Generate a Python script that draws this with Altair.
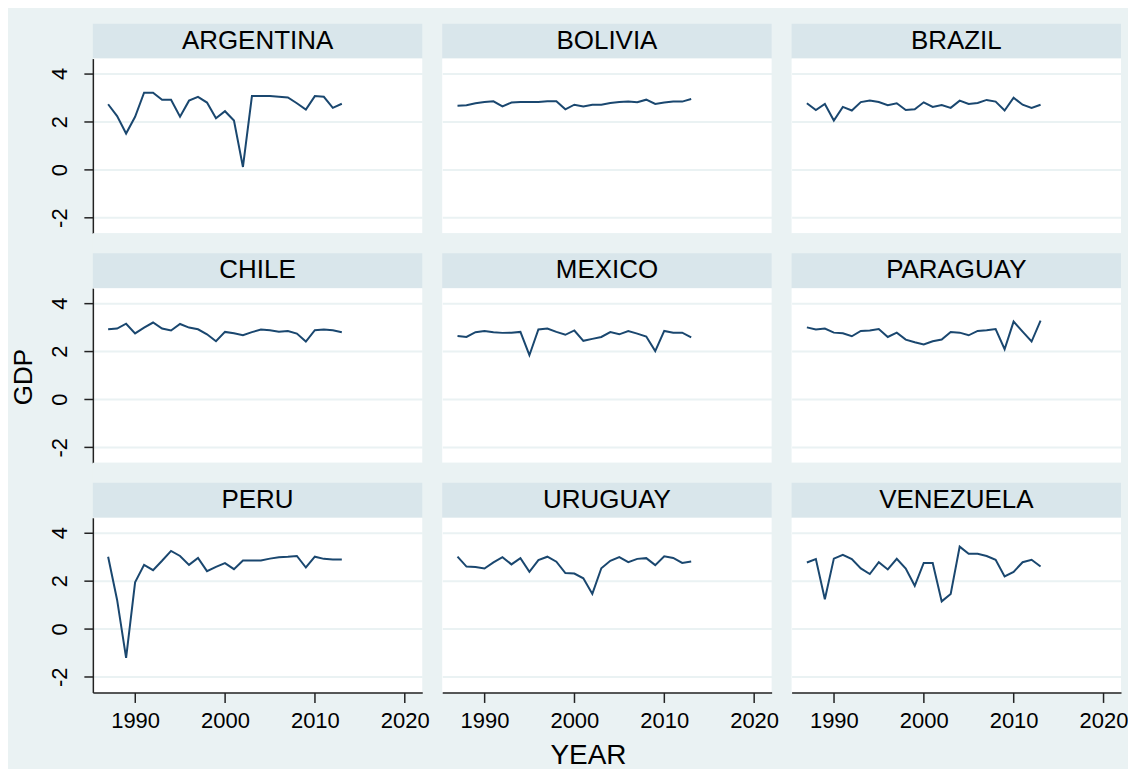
import altair as alt
import pandas as pd

years = list(range(1987, 2014))
countries = ["ARGENTINA", "BOLIVIA", "BRAZIL", "CHILE", "MEXICO",
             "PARAGUAY", "PERU", "URUGUAY", "VENEZUELA"]

argentina = [2.72, 2.23, 1.50, 2.20, 3.20, 3.20, 2.91, 2.91, 2.20, 2.87, 3.03, 2.79, 2.14, 2.43,
             2.04, 0.11, 3.06, 3.06, 3.06, 3.03, 3.00, 2.76, 2.50, 3.06, 3.03, 2.57, 2.74]
bolivia = [2.66, 2.68, 2.76, 2.81, 2.84, 2.63, 2.79, 2.81, 2.81, 2.81, 2.84, 2.84, 2.51, 2.70,
           2.63, 2.70, 2.70, 2.77, 2.81, 2.83, 2.80, 2.91, 2.73, 2.79, 2.83, 2.83, 2.94]
brazil = [2.76, 2.48, 2.73, 2.04, 2.61, 2.46, 2.81, 2.88, 2.81, 2.68, 2.76, 2.48, 2.51, 2.80,
          2.61, 2.69, 2.57, 2.87, 2.73, 2.77, 2.90, 2.83, 2.46, 2.99, 2.70, 2.57, 2.70]
chile = [2.91, 2.94, 3.14, 2.74, 2.98, 3.19, 2.94, 2.86, 3.13, 2.98, 2.91, 2.70, 2.41, 2.80,
         2.74, 2.66, 2.79, 2.90, 2.87, 2.81, 2.84, 2.73, 2.40, 2.87, 2.90, 2.87, 2.79]
mexico = [2.63, 2.59, 2.79, 2.84, 2.79, 2.76, 2.77, 2.80, 1.83, 2.90, 2.94, 2.80, 2.68, 2.86,
          2.43, 2.51, 2.59, 2.79, 2.70, 2.84, 2.73, 2.61, 2.00, 2.84, 2.77, 2.77, 2.57]
paraguay = [2.99, 2.90, 2.94, 2.77, 2.74, 2.62, 2.84, 2.86, 2.92, 2.59, 2.77, 2.48, 2.37, 2.28,
            2.41, 2.48, 2.80, 2.77, 2.66, 2.84, 2.87, 2.92, 2.08, 3.23, 2.81, 2.40, 3.27]
peru = [3.00, 1.20, -1.21, 1.93, 2.66, 2.44, 2.83, 3.24, 3.03, 2.66, 2.95, 2.40, 2.58, 2.73,
        2.48, 2.84, 2.84, 2.84, 2.92, 2.98, 3.00, 3.03, 2.55, 3.00, 2.91, 2.88, 2.88]
uruguay = [3.00, 2.59, 2.57, 2.51, 2.76, 2.98, 2.68, 2.94, 2.37, 2.86, 3.00, 2.79, 2.32, 2.30,
           2.10, 1.45, 2.52, 2.83, 2.98, 2.77, 2.91, 2.94, 2.65, 3.02, 2.95, 2.74, 2.80]
venezuela = [2.76, 2.90, 1.23, 2.92, 3.08, 2.90, 2.51, 2.28, 2.77, 2.47, 2.91, 2.51, 1.79, 2.74,
             2.74, 1.14, 1.45, 3.42, 3.12, 3.12, 3.03, 2.87, 2.18, 2.37, 2.77, 2.87, 2.59]

series = [argentina, bolivia, brazil, chile, mexico, paraguay, peru, uruguay, venezuela]

y_ticks = [-2, 0, 2, 4]
x_ticks = [1990, 2000, 2010, 2020]

FONT = "Liberation Sans"
BG = "#EAF2F3"
HEAD = "#D9E6EB"
LINE = "#1A476F"
W, H, HH, GAP = 330, 175, 35, 20
MINUS = "datum.value < 0 ? '-' + abs(datum.value) : '' + datum.value"


def header(name, row):
    top = 0 if row == 0 else GAP
    df = pd.DataFrame({"c": [name]})
    base = alt.Chart(df)
    band = base.mark_rect(color=HEAD).encode(
        x=alt.value(0), x2=alt.value(W), y=alt.value(top), y2=alt.value(top + HH))
    label = base.mark_text(fontSize=26, font=FONT, color="black",
                           baseline="alphabetic", align="center").encode(
        text="c:N", x=alt.value(W / 2), y=alt.value(top + 25))
    return alt.layer(band, label).properties(
        width=W, height=top + HH, view=alt.ViewBackground(fill=BG, strokeWidth=0))


def plot(vals, row, col):
    df = pd.DataFrame({"YEAR": years, "GDP": vals})
    show_y = col == 0
    show_x = row == 2
    yaxis = alt.Axis(values=y_ticks, title=None, grid=True, gridColor=BG, gridWidth=2,
                     labels=show_y, ticks=show_y, domain=show_y, labelAngle=-90,
                     labelAlign="center", labelBaseline="bottom", labelPadding=12,
                     labelExpr=MINUS)
    if show_x:
        xaxis = alt.Axis(values=x_ticks, title=None, grid=False, labelAngle=0,
                         format="d", labelPadding=8, tickSize=10)
    else:
        xaxis = None
    return alt.Chart(df).mark_line(color=LINE, strokeWidth=2).encode(
        x=alt.X("YEAR:Q", scale=alt.Scale(domain=[1985.3, 2021.95], nice=False, zero=False),
                axis=xaxis),
        y=alt.Y("GDP:Q", scale=alt.Scale(domain=[-2.65, 4.62], nice=False, zero=False),
                axis=yaxis),
    ).properties(width=W, height=H, view=alt.ViewBackground(fill="white", strokeWidth=0))


cells = []
for r in range(3):
    for c in range(3):
        cells.append(header(countries[3 * r + c], r))
    for c in range(3):
        cells.append(plot(series[3 * r + c], r, c))

grid = alt.concat(*cells, columns=3, spacing={"row": 0, "column": 20},
                  bounds="flush", align="each")
inner = alt.vconcat(grid, title=alt.TitleParams("YEAR", orient="bottom", anchor="middle",
                                                fontSize=28, font=FONT, fontWeight="normal",
                                                color="black", offset=11))
chart = alt.hconcat(inner, title=alt.TitleParams("GDP", orient="left", anchor="middle",
                                                 fontSize=26, font=FONT, fontWeight="normal",
                                                 color="black", offset=12, dx=20))

chart = chart.properties(
    padding={"top": 15, "left": 3, "right": 0, "bottom": 0},
).configure(background=BG).configure_view(strokeWidth=0).configure_axis(
    labelFont=FONT, labelFontSize=22, labelColor="black",
    domainColor="#222222", tickColor="#222222", domainWidth=1.5, tickWidth=1.5, tickSize=9,
).configure_concat(spacing=0)

chart.save("out.html", embed_options={"renderer": "svg", "actions": False})
